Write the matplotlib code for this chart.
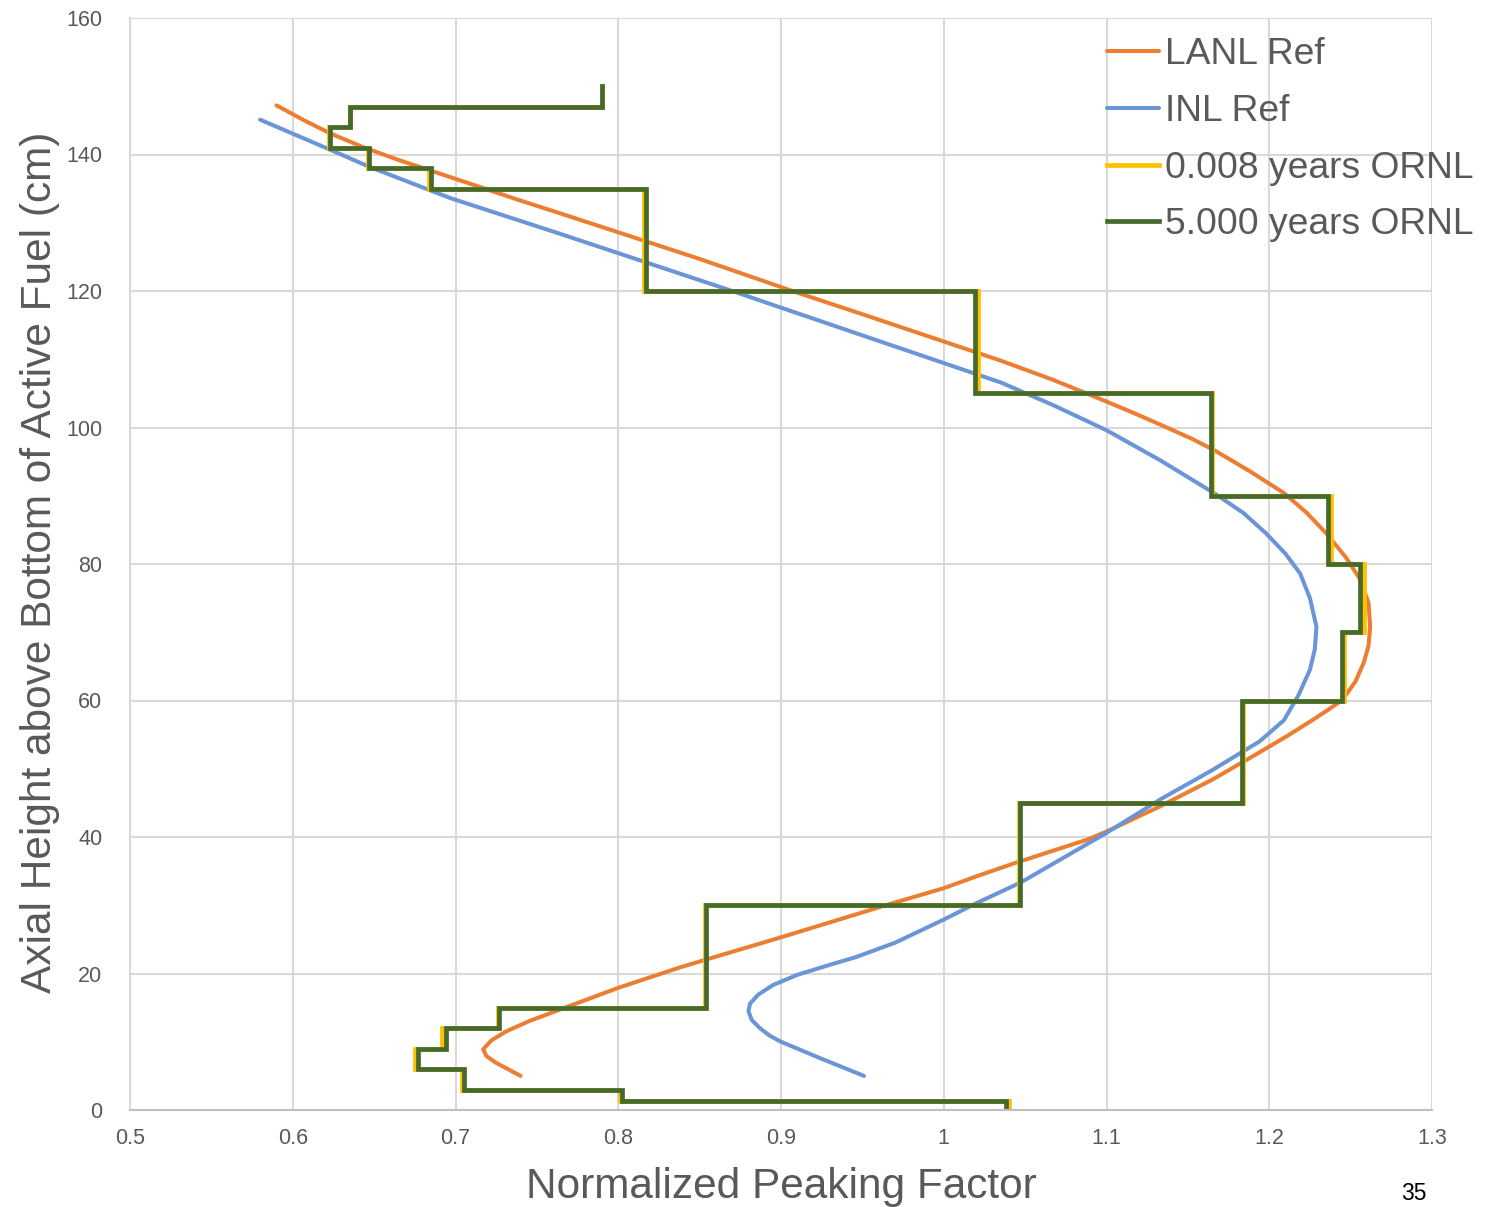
import matplotlib
matplotlib.use("Agg")
import matplotlib.pyplot as plt
import numpy as np

plt.rcParams["font.family"] = ["Liberation Sans", "DejaVu Sans"]

# LANL reference curve (peaking factor, height cm)
lanl_x = [0.590, 0.607, 0.623, 0.643, 0.665, 0.684, 0.713, 0.738, 0.764, 0.800,
          0.850, 0.907, 0.950, 1.000, 1.035, 1.067, 1.100, 1.118, 1.137, 1.152,
          1.166, 1.188, 1.209, 1.223, 1.235, 1.247, 1.256, 1.261, 1.262, 1.261,
          1.258, 1.253, 1.245, 1.236, 1.225, 1.211, 1.194, 1.165, 1.133, 1.100,
          1.088, 1.066, 1.044, 1.022, 1.000, 0.963, 0.900, 0.852, 0.838, 0.800,
          0.764, 0.745, 0.731, 0.722, 0.717, 0.719, 0.725, 0.740]
lanl_y = [147.2, 145.0, 143.1, 141.1, 139.2, 137.7, 135.4, 133.4, 131.4, 128.6,
          124.7, 120.0, 116.6, 112.6, 109.8, 107.0, 103.8, 102.0, 100.0, 98.4,
          96.7, 93.6, 90.4, 87.5, 84.5, 81.0, 77.7, 74.3, 70.8, 68.0,
          65.5, 62.8, 60.1, 58.6, 56.9, 54.8, 52.4, 48.4, 44.5, 40.8,
          39.6, 37.9, 36.2, 34.4, 32.5, 29.9, 25.3, 21.9, 20.9, 17.9,
          14.7, 13.0, 11.5, 10.2, 8.9, 7.9, 6.9, 5.0]

# INL reference curve
inl_x = [0.580, 0.623, 0.647, 0.697, 0.764, 0.870, 0.950, 1.035, 1.067, 1.100,
         1.133, 1.166, 1.184, 1.198, 1.210, 1.219, 1.225, 1.229, 1.228, 1.225,
         1.218, 1.209, 1.194, 1.165, 1.133, 1.100, 1.047, 1.020, 1.000, 0.970,
         0.946, 0.929, 0.910, 0.895, 0.886, 0.881, 0.880, 0.882, 0.887, 0.893,
         0.900, 0.925, 0.951]
inl_y = [145.1, 140.7, 138.2, 133.6, 128.4, 120.0, 113.5, 106.6, 103.3, 99.6,
         95.2, 90.4, 87.5, 84.5, 81.5, 78.6, 75.0, 70.8, 67.5, 64.5,
         60.8, 57.1, 54.0, 49.8, 45.5, 40.6, 33.3, 30.3, 27.9, 24.5,
         22.4, 21.2, 19.8, 18.3, 16.9, 15.6, 14.5, 13.2, 12.0, 10.9,
         10.0, 7.5, 5.0]

# ORNL axial node edges (cm) and node-averaged peaking factors
node_edges = [0, 1.27, 3, 6, 9, 12, 15, 30, 45, 60, 70, 80, 90, 105, 120,
              135, 138, 141, 144, 147, 150]
ornl_0008 = [1.040, 0.801, 0.704, 0.675, 0.692, 0.726, 0.853, 1.046, 1.184, 1.246,
             1.258, 1.238, 1.165, 1.021, 0.816, 0.684, 0.646, 0.622, 0.635, 0.790]
ornl_5000 = [1.038, 0.802, 0.705, 0.677, 0.694, 0.727, 0.854, 1.047, 1.183, 1.245,
             1.256, 1.236, 1.164, 1.019, 0.817, 0.685, 0.647, 0.623, 0.635, 0.790]

x_ticks = [0.5, 0.6, 0.7, 0.8, 0.9, 1.0, 1.1, 1.2, 1.3]
x_tick_labels = ["0.5", "0.6", "0.7", "0.8", "0.9", "1", "1.1", "1.2", "1.3"]
y_ticks = [0, 20, 40, 60, 80, 100, 120, 140, 160]


def step_path(edges, vals):
    xs, ys = [], []
    for i, v in enumerate(vals):
        xs += [v, v]
        ys += [edges[i], edges[i + 1]]
    return xs, ys


W, H = 1488, 1207
fig = plt.figure(figsize=(W / 100, H / 100), dpi=100)
ax = fig.add_axes([130 / W, 1 - 1110 / H, (1432 - 130) / W, (1110 - 18) / H])

tick_col = "#595959"
ax.plot(lanl_x, lanl_y, color="#ED7D31", lw=2.9, solid_capstyle="round",
        solid_joinstyle="round", label="LANL Ref")
ax.plot(inl_x, inl_y, color="#6A95D6", lw=2.9, solid_capstyle="round",
        solid_joinstyle="round", label="INL Ref")
sx, sy = step_path(node_edges, ornl_0008)
ax.plot(sx, sy, color="#FFC000", lw=3.4, solid_joinstyle="miter", label="0.008 years ORNL")
sx, sy = step_path(node_edges, ornl_5000)
ax.plot(sx, sy, color="#466A2B", lw=3.4, solid_joinstyle="miter", label="5.000 years ORNL")

ax.set_xlim(0.5, 1.3)
ax.set_ylim(0, 160)
ax.set_xticks(x_ticks)
ax.set_xticklabels(x_tick_labels)
ax.set_yticks(y_ticks)
ax.tick_params(length=0, labelsize=15.5, labelcolor=tick_col)
ax.tick_params(axis="x", pad=13)
ax.tick_params(axis="y", pad=20)
ax.grid(True, color="#d9d9d9", lw=1.5)
ax.set_axisbelow(True)
for s in ["top", "right"]:
    ax.spines[s].set_visible(False)
ax.spines["left"].set_color("#d9d9d9")
ax.spines["left"].set_linewidth(1.5)
ax.spines["bottom"].set_color("#bfbfbf")
ax.spines["bottom"].set_linewidth(1.5)

fig.text(781 / W, 1 - 1187 / H, "Normalized Peaking Factor", fontsize=30.5,
         color=tick_col, ha="center", va="center")
fig.text(40 / W, 1 - 562 / H, "Axial Height above Bottom of Active Fuel (cm)",
         fontsize=30.5, color=tick_col, ha="center", va="center", rotation=90)
fig.text(1414 / W, 1 - 1193 / H, "35", fontsize=16.5, color="#000000",
         ha="center", va="center")

leg = ax.legend(loc="upper left", bbox_to_anchor=(1107 / W, 1 - 37 / H),
                bbox_transform=fig.transFigure, frameon=False, fontsize=26.8,
                handlelength=1.4, handletextpad=0.15, labelspacing=0.585,
                borderpad=0, borderaxespad=0)
for t in leg.get_texts():
    t.set_color(tick_col)

fig.savefig("out.png", dpi=100)
